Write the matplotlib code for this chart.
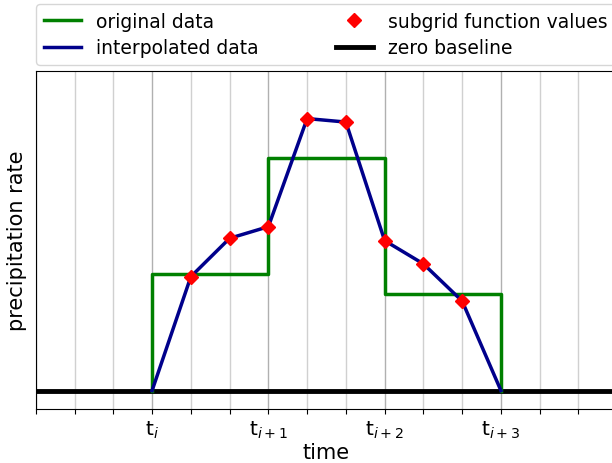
import matplotlib
matplotlib.use("Agg")
import matplotlib.pyplot as plt
import numpy as np

# step data (one value per interval t_i..t_i+1 etc.)
t_edges = [0, 1, 2, 3]
orig_vals = [1.0, 2.0, 0.83]

# interpolated subgrid values (3 per interval)
sub_t = [0, 1/3, 2/3, 1, 4/3, 5/3, 2, 7/3, 8/3, 3]
sub_vals = [0.0, 0.98, 1.31, 1.41, 2.34, 2.31, 1.29, 1.09, 0.77, 0.0]

tick_labels = ['t$_i$', 't$_{i+1}$', 't$_{i+2}$', 't$_{i+3}$']

fig = plt.figure(figsize=(6.12, 4.64), dpi=100)
ax = fig.add_axes([0.0585, 0.116, 0.950, 0.729])

# vertical grid
minor = np.arange(-1, 4.01, 1/3)
for x in minor:
    major = abs(x - round(x)) < 1e-6
    ax.axvline(x, color='#b0b0b0' if major else '#d0d0d0', lw=1.0, zorder=0)

# original step data, drawn from zero up and back down
sx = [t_edges[0]]
sy = [0]
for i, v in enumerate(orig_vals):
    sx += [t_edges[i], t_edges[i + 1]]
    sy += [v, v]
sx.append(t_edges[-1])
sy.append(0)
ax.plot(sx, sy, color='green', lw=2.5, label='original data', zorder=2)
ax.plot(sub_t, sub_vals, color='darkblue', lw=2.5, label='interpolated data', zorder=3)
ax.plot(sub_t[1:-1], sub_vals[1:-1], 'D', color='red', ms=7.5, ls='none',
        label='subgrid function values', zorder=4)
ax.axhline(0, color='black', lw=3.5, label='zero baseline', zorder=1)

ax.set_xlim(-1, 4)
ax.set_ylim(-0.16, 2.75)
ax.set_xticks(minor)
ax.set_xticklabels(['' if abs(x - round(x)) > 1e-6 or round(x) not in t_edges
                    else tick_labels[int(round(x))] for x in minor], fontsize=14.5)
ax.set_yticks([])
ax.spines['right'].set_visible(False)
ax.set_xlabel('time', fontsize=15, labelpad=1)
ax.set_ylabel('precipitation rate', fontsize=15, labelpad=6)

h, l = ax.get_legend_handles_labels()
fig.legend(h, l, ncol=2, fontsize=13.5,
           loc='upper left', bbox_to_anchor=(0.059, 0.989), columnspacing=4.1,
           handlelength=2.0, labelspacing=0.4, borderaxespad=0)

fig.savefig('out.png', dpi=100)
